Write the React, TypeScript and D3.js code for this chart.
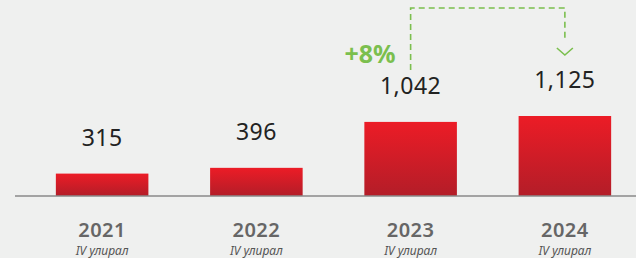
import React from "react";
import * as d3 from "d3";

const years = ["2021", "2022", "2023", "2024"];
const values = [315, 396, 1042, 1125];
const valueLabels = ["315", "396", "1,042", "1,125"];
const subLabel = "IV улирал";
const growthLabel = "+8%";
const growthFrom = "2023";
const growthTo = "2024";

const W = 636;
const H = 258;

export default function App() {
  const x = d3.scaleBand<string>().domain(years).range([25, 642]).paddingInner(0.4).paddingOuter(0.2);
  const y = d3.scaleLinear().domain([0, 1125]).range([196, 116]);
  const bw = x.bandwidth();
  const cx = (k: string) => (x(k) as number) + bw / 2;
  const fromIdx = years.indexOf(growthFrom);
  const toIdx = years.indexOf(growthTo);
  const x1 = cx(growthFrom);
  const x2 = cx(growthTo);
  const startY = y(values[fromIdx]) - 52;
  const topY = 8;
  const endY = y(values[toIdx]) - 75;
  const green = "#7bbf4e";
  const font = "'Noto Sans', 'Open Sans', sans-serif";

  return (
    <div style={{ position: "fixed", left: 0, top: 0, width: W, height: H }}>
      <svg width={W} height={H} style={{ display: "block" }}>
        <defs>
          <linearGradient id="barGrad" x1="0" y1="0" x2="0" y2="1">
            <stop offset="0%" stopColor="#ec1c26" />
            <stop offset="100%" stopColor="#b31d28" />
          </linearGradient>
        </defs>
        <rect x={0} y={0} width={W} height={H} fill="#eff0ef" />
        {years.map((k, i) => (
          <rect
            key={k}
            x={x(k)}
            y={y(values[i])}
            width={bw}
            height={y(0) - y(values[i])}
            fill="url(#barGrad)"
          />
        ))}
        <line x1={15} x2={W} y1={y(0)} y2={y(0)} stroke="#8a8a8a" strokeWidth={1.5} />
        {years.map((k, i) => (
          <text
            key={"v" + k}
            x={cx(k)}
            y={y(values[i]) - 28}
            textAnchor="middle"
            fontFamily={font}
            fontSize={23}
            fontWeight={400}
            letterSpacing={0.5}
            fill="#222"
          >
            {valueLabels[i]}
          </text>
        ))}
        {years.map((k) => (
          <text
            key={"y" + k}
            x={cx(k)}
            y={237}
            textAnchor="middle"
            fontFamily={font}
            fontSize={20}
            fontWeight={600}
            letterSpacing={0.5}
            fill="#666"
          >
            {k}
          </text>
        ))}
        {years.map((k) => (
          <text
            key={"s" + k}
            x={cx(k)}
            y={255}
            textAnchor="middle"
            fontFamily={font}
            fontSize={12}
            fontStyle="italic"
            fill="#555"
          >
            {subLabel}
          </text>
        ))}
        <path
          d={`M${x1},${startY} L${x1},${topY} L${x2},${topY} L${x2},${endY}`}
          fill="none"
          stroke={green}
          strokeWidth={1.6}
          strokeDasharray="6 4"
        />
        <path
          d={`M${x2 - 8},${endY + 7} L${x2},${endY + 14} L${x2 + 8},${endY + 7}`}
          fill="none"
          stroke={green}
          strokeWidth={1.6}
        />
        <text
          x={x1 - 15}
          y={63}
          textAnchor="end"
          fontFamily={font}
          fontSize={25}
          fontWeight={700}
          fill={green}
        >
          {growthLabel}
        </text>
      </svg>
    </div>
  );
}
